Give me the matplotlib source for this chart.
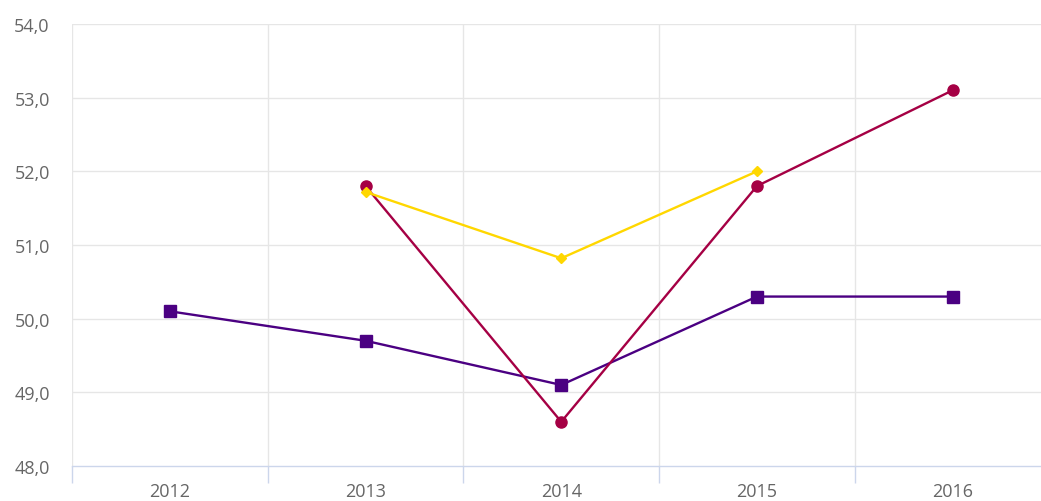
import matplotlib
matplotlib.use("Agg")
import matplotlib.pyplot as plt
from matplotlib.ticker import FuncFormatter

plt.rcParams["font.family"] = ["Open Sans", "DejaVu Sans"]

years = ["2012", "2013", "2014", "2015", "2016"]
purple_vals = [50.1, 49.7, 49.1, 50.3, 50.3]
red_vals = [None, 51.8, 48.6, 51.8, 53.1]
yellow_vals = [None, 51.72, 50.82, 52.0, None]
y_ticks = [48, 49, 50, 51, 52, 53, 54]

W, H = 1041, 502
fig = plt.figure(figsize=(W / 100, H / 100), dpi=100)
left, right, top, bottom = 72, 1041, 25, 467
ax = fig.add_axes([left / W, 1 - bottom / H, (right - left) / W, (bottom - top) / H])

def series(vals):
    xs = [i for i, v in enumerate(vals) if v is not None]
    ys = [v for v in vals if v is not None]
    return xs, ys

xs, ys = series(purple_vals)
ax.plot(xs, ys, color="#4B0082", lw=1.7, marker="s", ms=8.5, zorder=4, clip_on=False)
xs, ys = series(red_vals)
ax.plot(xs, ys, color="#A50044", lw=1.7, marker="o", ms=8, zorder=5, clip_on=False)
xs, ys = series(yellow_vals)
ax.plot(xs, ys, color="#FFD700", lw=1.7, marker="D", ms=5.5, zorder=6, clip_on=False)

ax.set_yticks(y_ticks)
ax.yaxis.set_major_formatter(FuncFormatter(lambda v, p: f"{v:.1f}".replace(".", ",")))
ax.tick_params(axis="y", length=0, pad=16, labelsize=13, labelcolor="#666666")

ax.set_xticks(range(len(years)))
ax.set_xticklabels(years)
ax.tick_params(axis="x", length=0, pad=11.5, labelsize=13, labelcolor="#666666")
ax.set_xticks([i + 0.5 for i in range(-1, len(years))], minor=True)
ax.tick_params(axis="x", which="minor", length=12, color="#ccd6eb", width=1, direction="out")

cat_w = 195.7
ax.set_xlim(-0.5, -0.5 + (right - left) / cat_w)
ax.set_ylim(48, 54)

for y in y_ticks[1:]:
    ax.axhline(y, color="#e6e6e6", lw=1, zorder=1)
for i in range(-1, len(years)):
    ax.axvline(i + 0.5, color="#e6e6e6", lw=1, zorder=1)

for s in ["top", "right", "left"]:
    ax.spines[s].set_visible(False)
ax.spines["bottom"].set_color("#ccd6eb")
ax.spines["bottom"].set_linewidth(1)

fig.savefig("out.png", dpi=100)
